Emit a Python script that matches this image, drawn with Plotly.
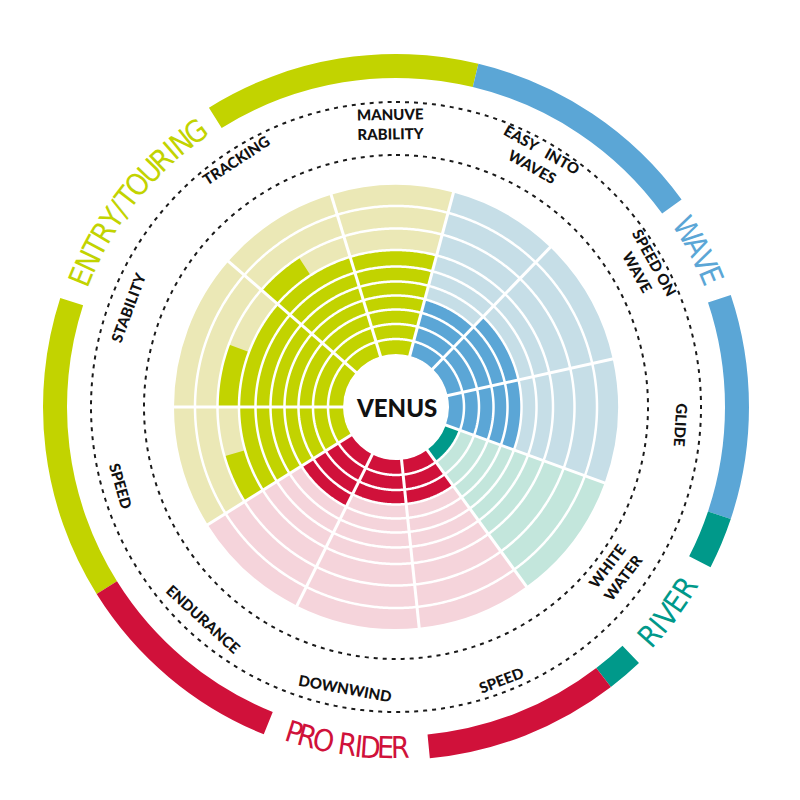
import numpy as np
import plotly.graph_objects as go

# ---------------- data ----------------
categories = ["MANUVE<br>RABILITY", "EASY&nbsp;&nbsp;&nbsp;INTO<br>WAVES", "SPEED ON<br>WAVE", "GLIDE",
              "WHITE<br>WATER", "SPEED", "DOWNWIND", "ENDURANCE", "SPEED", "STABILITY", "TRACKING"]
category_group = ["ENTRY/TOURING", "WAVE", "WAVE", "WAVE", "RIVER", "PRO RIDER", "PRO RIDER",
                  "PRO RIDER", "ENTRY/TOURING", "ENTRY/TOURING", "ENTRY/TOURING"]
sector_start = [-17, 15, 44, 77.5, 110, 144, 174, 206.5, 238, 270, 311]   # degrees, clockwise from top
sector_end = [15, 44, 77.5, 110, 144, 174, 206.5, 238, 270, 311, 343]
scores = [7, 4, 5, 5, 1, 3, 3, 4, 7.5, 7.5, 7.5]                          # scale 0..10

groups = ["ENTRY/TOURING", "WAVE", "RIVER", "PRO RIDER"]
group_label_from = [-67.5, 58.8, 132, 197.4]
group_label_to = [-36, 67.4, 122, 179.3]
band_group = ["ENTRY/TOURING", "ENTRY/TOURING", "WAVE", "WAVE", "RIVER", "RIVER", "PRO RIDER", "PRO RIDER"]
band_start = [238, 328, 13.5, 71.5, 108.5, 136.5, 142.5, 202]
band_end = [288, 373.5, 54, 108.5, 117, 142.5, 174.5, 238]

center_label = "VENUS"

# ---------------- style / layout ----------------
dark = {"ENTRY/TOURING": "#c2d300", "WAVE": "#5ba6d6", "RIVER": "#00998a", "PRO RIDER": "#d0113a"}
light = {"ENTRY/TOURING": "#ebe8b6", "WAVE": "#c6dee7", "RIVER": "#c3e6dc", "PRO RIDER": "#f5d4db"}
ring_edges = [53, 68, 83, 97.5, 111.5, 125.5, 140.5, 157, 178.5, 201, 222]
R_MAX = 365
CX, CY = 396, 407  # pixel centre
W = H = 800
BAND_IN, BAND_OUT, BAND_TEXT_R = 329, 353, 341
DASH_R = [252, 305]
LABEL_R = 286
label_r_adjust = {10: 294, 4: 274, 5: 292, 0: 283}

fig = go.Figure()

# light background wedges + dark score wedges
for i, cat in enumerate(categories):
    s, e = sector_start[i], sector_end[i]
    w = e - s
    c = (s + e) / 2
    g = category_group[i]
    fig.add_trace(go.Barpolar(theta=[c], r=[ring_edges[-1] - ring_edges[0]], base=[ring_edges[0]],
                              width=[w], marker=dict(color=light[g], line=dict(width=0)),
                              hoverinfo="skip", showlegend=False))
    v = scores[i]
    n = int(np.floor(v))
    frac = v - n
    if n > 0:
        fig.add_trace(go.Barpolar(theta=[c], r=[ring_edges[n] - ring_edges[0]], base=[ring_edges[0]],
                                  width=[w], marker=dict(color=dark[g], line=dict(width=0)),
                                  hovertext=[f"{cat.replace('<br>', ' ').replace('&nbsp;', '')}: {v}"],
                                  hoverinfo="text", showlegend=False))
    if frac > 0:
        fw = frac * w
        fig.add_trace(go.Barpolar(theta=[s + fw / 2], r=[ring_edges[n + 1] - ring_edges[n]],
                                  base=[ring_edges[n]], width=[fw],
                                  marker=dict(color=dark[g], line=dict(width=0)),
                                  hoverinfo="skip", showlegend=False))

# outer group bands
for g, s, e in zip(band_group, band_start, band_end):
    fig.add_trace(go.Barpolar(theta=[(s + e) / 2], r=[BAND_OUT - BAND_IN], base=[BAND_IN], width=[e - s],
                              marker=dict(color=dark[g], line=dict(width=0)),
                              hoverinfo="skip", showlegend=False))

# white ring separators
th = np.linspace(0, 360, 721)
for re_ in ring_edges[1:-1]:
    fig.add_trace(go.Scatterpolar(r=[re_] * len(th), theta=th, mode="lines",
                                  line=dict(color="white", width=2.5), hoverinfo="skip", showlegend=False))
# white spokes
for b in sector_start:
    fig.add_trace(go.Scatterpolar(r=[ring_edges[0] - 2, ring_edges[-1] + 2], theta=[b, b], mode="lines",
                                  line=dict(color="white", width=3), hoverinfo="skip", showlegend=False))
# dashed circles
for dr in DASH_R:
    fig.add_trace(go.Scatterpolar(r=[dr] * len(th), theta=th, mode="lines",
                                  line=dict(color="#1a1a1a", width=2, dash="4px,5px"),
                                  hoverinfo="skip", showlegend=False))


def to_paper(theta_deg, r):
    t = np.radians(theta_deg)
    px = CX + r * np.sin(t)
    py = CY - r * np.cos(t)
    return px / W, 1 - py / H


def norm(a):
    return (a + 180) % 360 - 180


annotations = []
# category labels
for i, cat in enumerate(categories):
    c = (sector_start[i] + sector_end[i]) / 2
    r = label_r_adjust.get(i, LABEL_R)
    x, y = to_paper(c, r)
    a = norm(c)
    ang = a if -100 < a < 100 else norm(a - 180)
    annotations.append(dict(x=x, y=y, xref="paper", yref="paper", text=cat, showarrow=False,
                            textangle=ang, xanchor="center", yanchor="middle",
                            font=dict(family="Lato", size=15, color="#111111", weight=900)))

# curved group labels, letter by letter
cw = {"W": 0.95, "M": 0.85, "I": 0.32, "/": 0.36, " ": 0.4, "O": 0.8, "G": 0.8, "D": 0.74, "U": 0.74,
      "N": 0.74, "R": 0.72, "V": 0.7, "A": 0.7}
for g, a0, a1 in zip(groups, group_label_from, group_label_to):
    chars = list(g)
    ws = [cw.get(ch, 0.66) for ch in chars]
    pos = [0.0]
    for k in range(1, len(chars)):
        pos.append(pos[-1] + (ws[k - 1] + ws[k]) / 2 + 0.12)
    for k, ch in enumerate(chars):
        if ch == " ":
            continue
        t = a0 + (a1 - a0) * pos[k] / pos[-1]
        x, y = to_paper(t, BAND_TEXT_R)
        ang = norm(t) if a1 > a0 else norm(t - 180)
        annotations.append(dict(x=x, y=y, xref="paper", yref="paper", text=ch, showarrow=False,
                                textangle=ang, xanchor="center", yanchor="middle",
                                font=dict(family="Liberation Sans Narrow, DejaVu Sans Condensed, Roboto, sans-serif",
                                          size=30, color=dark[g])))

# centre label
cx_p, cy_p = to_paper(0, 0)
annotations.append(dict(x=cx_p, y=cy_p, xref="paper", yref="paper", text=center_label, showarrow=False,
                        xanchor="center", yanchor="middle",
                        font=dict(family="Lato", size=24, color="#111111", weight=900)))

dom_x = [(CX - R_MAX) / W, (CX + R_MAX) / W]
dom_y = [(H - CY - R_MAX) / H, (H - CY + R_MAX) / H]

fig.update_layout(
    width=W, height=H, margin=dict(l=0, r=0, t=0, b=0),
    paper_bgcolor="white", plot_bgcolor="white",
    showlegend=False,
    polar=dict(
        domain=dict(x=dom_x, y=dom_y),
        bgcolor="white",
        barmode="overlay",
        radialaxis=dict(range=[0, R_MAX], visible=False, showgrid=False),
        angularaxis=dict(rotation=90, direction="clockwise", visible=False, showgrid=False,
                         thetaunit="degrees"),
    ),
    annotations=annotations,
)

fig.write_html("out.html")
